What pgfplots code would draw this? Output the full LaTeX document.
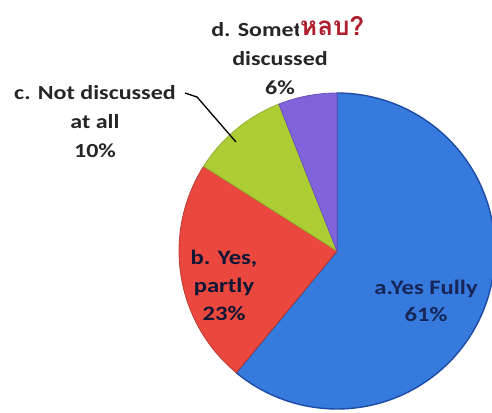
\documentclass[border=0pt]{standalone}
\usepackage{pgfplots}
\pgfplotsset{compat=1.18}
\usepackage{fontspec}
\setmainfont{Carlito}[FakeStretch=1.2]
\newfontfamily\thaifont[Script=Thai]{Loma}
\definecolor{pieblue}{RGB}{55,122,222}
\definecolor{pieblueedge}{RGB}{30,75,165}
\definecolor{piered}{RGB}{234,72,62}
\definecolor{piegreen}{RGB}{172,206,52}
\definecolor{piepurple}{RGB}{128,98,218}
\definecolor{thaired}{RGB}{175,30,45}
\definecolor{navy}{RGB}{22,38,88}
% shares (percent): a, b, c, d
\def\pa{61}\def\pb{23}\def\pc{10}\def\pd{6}
\pgfmathsetmacro\angA{90}
\pgfmathsetmacro\angB{90-3.6*\pa}
\pgfmathsetmacro\angC{\angB-3.6*\pb}
\pgfmathsetmacro\angD{\angC-3.6*\pc}
\pgfmathsetmacro\angE{\angD-3.6*\pd}
\def\cx{337}\def\cy{161}\def\r{158}
\begin{document}
\begin{tikzpicture}
\begin{axis}[hide axis, scale only axis, width=492pt, height=412pt,
  xmin=0, xmax=492, ymin=0, ymax=412, clip=false]
\addplot[fill=pieblue, draw=pieblueedge, line width=1.4pt, domain=\angB:\angA, samples=120]
  ({\cx+\r*cos(x)},{\cy+\r*sin(x)}) -- (axis cs:\cx,\cy) -- cycle;
\addplot[fill=piered, draw=piered!80!black, line width=0.8pt, domain=\angC:\angB, samples=60]
  ({\cx+\r*cos(x)},{\cy+\r*sin(x)}) -- (axis cs:\cx,\cy) -- cycle;
\addplot[fill=piegreen, draw=piegreen!85!black, line width=0.8pt, domain=\angD:\angC, samples=40]
  ({\cx+\r*cos(x)},{\cy+\r*sin(x)}) -- (axis cs:\cx,\cy) -- cycle;
\addplot[fill=piepurple, draw=piepurple!85!black, line width=0.8pt, domain=\angE:\angD, samples=30]
  ({\cx+\r*cos(x)},{\cy+\r*sin(x)}) -- (axis cs:\cx,\cy) -- cycle;
% leader line for c
\addplot[black, line width=1.3pt] coordinates {(185,319) (197,315) (236,270)};
% labels
\node[align=center, font=\fontsize{20}{29}\selectfont\bfseries, text=black!85] at (axis cs:95,290) {c. Not discussed\\at all\\10\%};
\node[align=center, font=\fontsize{20}{29}\selectfont\bfseries, text=black!85] at (axis cs:280,353) {d. Sometimes\\discussed\\6\%};
\node[anchor=base west, inner sep=1pt, fill=white, text=thaired, font=\thaifont\fontsize{26}{30}\selectfont\bfseries] at (axis cs:299,376) {หลบ?};
\node[align=center, font=\fontsize{20.5}{28}\selectfont\bfseries, text=navy!60!black] at (axis cs:224,127) {b. Yes,\\partly\\23\%};
\node[align=center, font=\fontsize{20.5}{27}\selectfont\bfseries, text=navy] at (axis cs:426,111) {a.Yes Fully\\61\%};
\end{axis}
\pgfresetboundingbox
\path (current axis.south west) rectangle (current axis.north east);
\end{tikzpicture}
\end{document}
